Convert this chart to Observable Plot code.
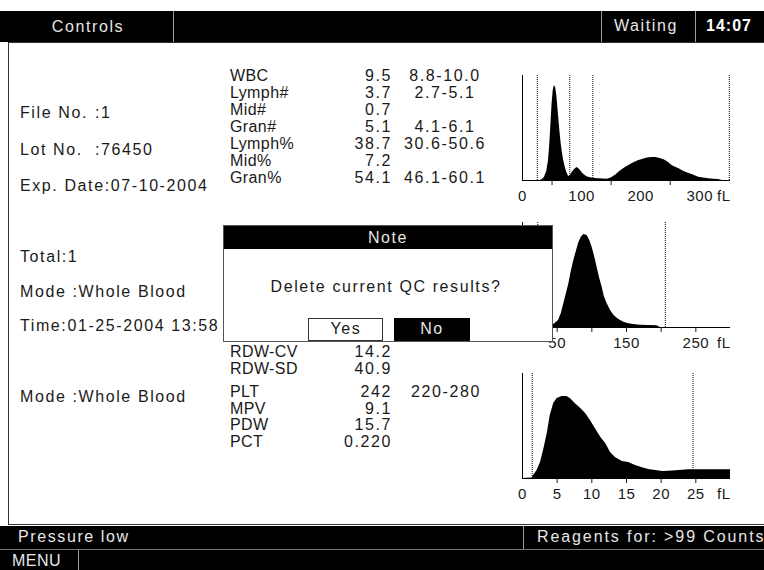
<!DOCTYPE html>
<html>
<head>
<meta charset="utf-8">
<script src="https://cdn.jsdelivr.net/npm/d3@7"></script>
<script src="https://cdn.jsdelivr.net/npm/@observablehq/plot@0.6"></script>
<style>
  html, body { margin:0; padding:0; background:#fff; }
  #root { position:relative; width:764px; height:570px; overflow:hidden; background:#fff;
    font-family:"Liberation Sans", Arial, sans-serif; font-size:16px; letter-spacing:1.6px; color:#1a1a1a; }
  .t { position:absolute; white-space:pre; line-height:18px; height:18px; }
  .chart { position:absolute; }
</style>
</head>
<body>
<div id="root"></div>
<script>
// ---------- data ----------
const headerTexts = ["Controls", "Waiting", "14:07"];
const footerTexts = ["Pressure low", "Reagents for: >99 Counts", "MENU"];

const infoLabels = ["File No.", "Lot No.", "Exp. Date:07-10-2004"];
const infoValues = [":1", ":76450", ""];
const sampleLines = ["Total:1", "Mode :Whole Blood", "Time:01-25-2004 13:58"];
const pltModeLine = "Mode :Whole Blood";

const wbcParams = ["WBC", "Lymph#", "Mid#", "Gran#", "Lymph%", "Mid%", "Gran%"];
const wbcValues = ["9.5", "3.7", "0.7", "5.1", "38.7", "7.2", "54.1"];
const wbcRanges = ["8.8-10.0", "2.7-5.1", "", "4.1-6.1", "30.6-50.6", "", "46.1-60.1"];

const rdwParams = ["RDW-CV", "RDW-SD"];
const rdwValues = ["14.2", "40.9"];

const pltParams = ["PLT", "MPV", "PDW", "PCT"];
const pltValues = ["242", "9.1", "15.7", "0.220"];
const pltRanges = ["220-280", "", "", ""];

const dialogTitle = "Note";
const dialogMessage = "Delete current QC results?";
const dialogButtons = ["Yes", "No"];

// WBC histogram (fL vs relative count)
const wbcX = [0, 30, 33, 37, 41, 44, 46, 48, 50, 52, 54, 56, 58, 60, 62, 64, 66, 69, 72, 75, 78, 81, 84, 88, 92, 95, 98, 102, 106, 110, 115, 122, 129, 136, 143, 148, 152, 158, 163, 168, 174, 180, 186, 192, 197, 203, 208, 214, 220, 226, 231, 237, 242, 248, 253, 259, 265, 270, 276, 282, 287, 293, 298, 306, 315, 324, 332, 338, 352];
const wbcY = [0, 0, 0.7, 3, 9, 20, 35, 55, 76, 90, 95, 93, 85, 72, 58, 45, 34, 22, 14, 8, 4, 5, 8, 11, 13, 12, 10, 7, 5, 3.5, 2.7, 2, 1.7, 1.5, 1.3, 2, 3.3, 5.5, 8.3, 10.5, 13, 15, 17, 18.7, 20, 21, 22, 22.7, 23, 23, 22.3, 21.3, 20, 17.5, 15, 13.3, 11.7, 10, 8.3, 7, 6, 4.5, 3.3, 2.4, 1.7, 1.2, 1, 0, 0];
const wbcDotted = [25, 80, 119, 350];
const wbcMinorTicks = [50, 150, 250];
const wbcTickLabels = [0, 100, 200, 300];

// RBC histogram
const rbcX = [30, 40, 46.6, 52, 56, 59.6, 63, 66.9, 70, 74, 78, 81.3, 85, 88.5, 93.3, 97, 100.5, 104, 107.7, 111, 115, 118, 122, 127, 132, 137, 141.4, 147, 153.4, 160, 170, 182, 194, 199];
const rbcY = [0, 1.5, 3.7, 7, 14, 23.7, 33, 43.7, 55, 67, 77, 85, 90.5, 93, 92, 87, 80, 71, 60, 50, 40, 31, 24, 17, 12, 9, 7, 5, 3.7, 3, 2.3, 2, 1.7, 0];
const rbcDotted = [22, 206];
const rbcMinorTicks = [50, 100, 150, 200, 250];
const rbcTickLabels = [50, 150, 250];

// PLT histogram
const pltX = [0, 1.4, 1.6, 2.1, 2.6, 3.1, 3.6, 4.0, 4.5, 5.0, 5.7, 6.4, 6.9, 7.6, 8.4, 9.1, 9.8, 10.5, 11.3, 12.0, 12.7, 13.4, 14.4, 15.3, 16.3, 17.3, 18.2, 19.2, 20.2, 21.1, 22.6, 24.0, 25.9, 27.8, 30];
const pltY = [0, 0.5, 3, 8, 16, 30, 46, 63, 75, 80, 82, 82, 80, 75, 70, 65, 58, 50, 41, 35, 26, 21, 17, 16, 13, 10.7, 9, 8, 7, 7.3, 8, 8.7, 8.7, 8.7, 8.7];
const pltDotted = [1.4, 24.6];
const pltMinorTicks = [5, 10, 15, 20, 25];
const pltTickLabels = [0, 5, 10, 15, 20, 25];

// ---------- layout helpers ----------
const root = document.getElementById("root");
function box(x, y, w, h, css) {
  const d = document.createElement("div");
  d.style.position = "absolute";
  d.style.left = x + "px"; d.style.top = y + "px";
  d.style.width = w + "px"; d.style.height = h + "px";
  Object.assign(d.style, css || {});
  root.appendChild(d);
  return d;
}
function txt(s, x, yc, opts) {
  opts = opts || {};
  const d = document.createElement("div");
  d.className = "t";
  d.textContent = s;
  d.style.top = (yc - 9) + "px";
  if (opts.align === "right") { d.style.left = (x - 300) + "px"; d.style.width = "300px"; d.style.textAlign = "right"; }
  else if (opts.align === "center") { d.style.left = (x - 200) + "px"; d.style.width = "400px"; d.style.textAlign = "center"; }
  else d.style.left = x + "px";
  if (opts.color) d.style.color = opts.color;
  if (opts.weight) d.style.fontWeight = opts.weight;
  if (opts.ls != null) d.style.letterSpacing = opts.ls + "px";
  (opts.parent || root).appendChild(d);
  return d;
}

// ---------- chrome ----------
box(0, 11, 764, 31, {background: "#000"});
box(173, 11, 1, 31, {background: "#9a9a9a"});
box(601, 11, 1, 31, {background: "#9a9a9a"});
box(695, 11, 1, 31, {background: "#9a9a9a"});
txt(headerTexts[0], 88, 27, {align: "center", color: "#e6e6e6"});
txt(headerTexts[1], 646, 26, {align: "center", color: "#e6e6e6"});
txt(headerTexts[2], 729, 26, {align: "center", color: "#fff", weight: "bold", ls: 1});

box(8, 42, 770, 483, {border: "1px solid #333", boxSizing: "border-box"});

box(0, 526, 764, 23, {background: "#000"});
box(523, 526, 1, 23, {background: "#9a9a9a"});
box(0, 549, 764, 1, {background: "#777"});
box(0, 550, 764, 20, {background: "#000"});
box(78, 550, 1, 20, {background: "#9a9a9a"});
txt(footerTexts[0], 18, 537, {color: "#e6e6e6"});
txt(footerTexts[1], 537, 537, {color: "#e6e6e6", ls: 1.9});
txt(footerTexts[2], 12, 561, {color: "#e6e6e6", ls: 0.5});

// ---------- left info ----------
const infoY = [113, 150, 186];
infoLabels.forEach((s, i) => { txt(s, 20, infoY[i]); if (infoValues[i]) txt(infoValues[i], 95, infoY[i]); });
const sampleY = [257, 292, 326];
sampleLines.forEach((s, i) => txt(s, 20, sampleY[i]));
txt(pltModeLine, 20, 397);

// ---------- parameter tables ----------
const wbcRowY = wbcParams.map((_, i) => 76 + i * 17);
wbcParams.forEach((p, i) => {
  txt(p, 230, wbcRowY[i], {ls: 0.4});
  txt(wbcValues[i], 392, wbcRowY[i], {align: "right"});
  if (wbcRanges[i]) txt(wbcRanges[i], 445, wbcRowY[i], {align: "center"});
});
const rdwRowY = [352, 369];
rdwParams.forEach((p, i) => {
  txt(p, 230, rdwRowY[i], {ls: 0.4});
  txt(rdwValues[i], 392, rdwRowY[i], {align: "right"});
});
const pltRowY = [392, 408.5, 425, 441.5];
pltParams.forEach((p, i) => {
  txt(p, 230, pltRowY[i], {ls: 0.4});
  txt(pltValues[i], 392, pltRowY[i], {align: "right"});
  if (pltRanges[i]) txt(pltRanges[i], 446, pltRowY[i], {align: "center"});
});

// ---------- histograms ----------
const ML = 14, MR = 20, MT = 3, MB = 30, PW = 208, PH = 105;
function histogram(xs, ys, cfg) {
  const data = xs.map((x, i) => ({x, y: ys[i]}));
  return Plot.plot({
    width: ML + PW + MR, height: MT + PH + MB,
    marginLeft: ML, marginRight: MR, marginTop: MT, marginBottom: MB,
    style: {fontFamily: '"Liberation Sans", Arial, sans-serif', fontSize: "15px", color: "#1a1a1a",
            background: "transparent", overflow: "visible", letterSpacing: "0.5px"},
    x: {domain: cfg.domain},
    y: {domain: [0, 105], axis: null},
    marks: [
      Plot.ruleX(cfg.dotted, {stroke: "#000", strokeDasharray: "1,1", strokeWidth: 1}),
      Plot.areaY(data, {x: "x", y: "y", fill: "#000"}),
      Plot.ruleX([0], {stroke: "#000"}),
      Plot.ruleY([0], {stroke: "#000"}),
      Plot.axisX({ticks: cfg.minor, tickSize: 5, tickFormat: () => "", label: null}),
      Plot.axisX({ticks: cfg.labels, tickSize: 0, tickPadding: 10, label: null, tickFormat: d => String(d)}),
      Plot.text(["fL"], {text: d => d, frameAnchor: "bottom-right", textAnchor: "end", lineAnchor: "top", dy: 10})
    ]
  });
}
function place(svg, top) {
  const d = document.createElement("div");
  d.className = "chart";
  d.style.left = (522 - ML) + "px";
  d.style.top = (top - MT) + "px";
  d.appendChild(svg);
  root.appendChild(d);
}
place(histogram(wbcX, wbcY, {domain: [0, 352], dotted: wbcDotted, minor: wbcMinorTicks, labels: wbcTickLabels}), 75);
place(histogram(rbcX, rbcY, {domain: [0, 300], dotted: rbcDotted, minor: rbcMinorTicks, labels: rbcTickLabels}), 222);
place(histogram(pltX, pltY, {domain: [0, 30], dotted: pltDotted, minor: pltMinorTicks, labels: pltTickLabels}), 373);

// ---------- dialog ----------
const dlg = box(223, 225, 330, 117, {background: "#fff", border: "1px solid #555", boxSizing: "border-box", zIndex: 10});
const bar = document.createElement("div");
Object.assign(bar.style, {position: "absolute", left: "0", top: "0", width: "100%", height: "23px", background: "#000"});
dlg.appendChild(bar);
txt(dialogTitle, 164, 12, {align: "center", color: "#e6e6e6", parent: dlg});
txt(dialogMessage, 162, 61, {align: "center", parent: dlg});
const yes = document.createElement("div");
Object.assign(yes.style, {position: "absolute", left: "84px", top: "92px", width: "75px", height: "23px", border: "1px solid #333", boxSizing: "border-box", background: "#fff"});
dlg.appendChild(yes);
const no = document.createElement("div");
Object.assign(no.style, {position: "absolute", left: "170px", top: "92px", width: "76px", height: "23px", background: "#000"});
dlg.appendChild(no);
txt(dialogButtons[0], 122, 103, {align: "center", parent: dlg});
txt(dialogButtons[1], 208, 103, {align: "center", color: "#e6e6e6", parent: dlg});
</script>
</body>
</html>
